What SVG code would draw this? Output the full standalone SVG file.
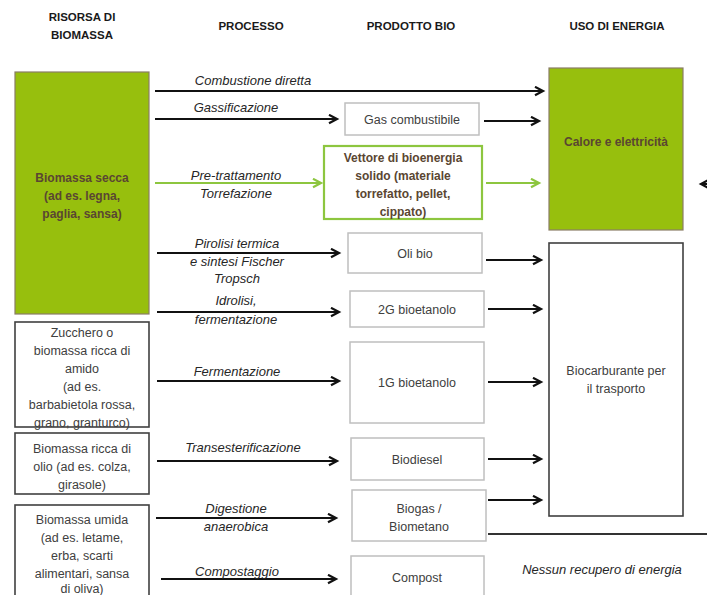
<svg xmlns="http://www.w3.org/2000/svg" width="707" height="595" viewBox="0 0 707 595">
<style>
text{font-family:"Liberation Sans","Open Sans",sans-serif;font-size:12.5px;text-anchor:middle;fill:#404040}
.h{font-weight:bold;font-size:11.5px;fill:#1a1a1a}
.p{font-style:italic;font-size:13px;fill:#262626}
.b{fill:#5a4632;font-weight:bold;font-size:12px}
.gbox{fill:#97BF0D;stroke:#8a7d66;stroke-width:1.2}
.wbox{fill:#fff;stroke:#404040;stroke-width:1.6}
.pbox{fill:#fff;stroke:#bfbfbf;stroke-width:1.5}
.vbox{fill:#fff;stroke:#8DC63F;stroke-width:2.2}
.a{stroke:#111;stroke-width:2;fill:none;marker-end:url(#ah)}
.ag{stroke:#8DC63F;stroke-width:2;fill:none;marker-end:url(#ahg)}
.ln{stroke:#333;stroke-width:2;fill:none}
</style>
<defs>
<marker id="ah" markerWidth="12" markerHeight="12" refX="9" refY="5" orient="auto" markerUnits="userSpaceOnUse">
<path d="M1,0.8 L9,5 L1,9.2" fill="none" stroke="#111" stroke-width="2.2"/>
</marker>
<marker id="ahg" markerWidth="12" markerHeight="12" refX="9" refY="5" orient="auto" markerUnits="userSpaceOnUse">
<path d="M1,0.8 L9,5 L1,9.2" fill="none" stroke="#8DC63F" stroke-width="2.2"/>
</marker>
</defs>
<rect width="707" height="595" fill="#fff"/>
<g id="headers">
<text class="h" x="82" y="21">RISORSA DI</text>
<text class="h" x="82" y="39">BIOMASSA</text>
<text class="h" x="251" y="30">PROCESSO</text>
<text class="h" x="411" y="30">PRODOTTO BIO</text>
<text class="h" x="617" y="30">USO DI ENERGIA</text>
</g>
<g id="n-secca">
<rect class="gbox" x="15" y="72" width="134" height="242"/>
<text class="b" x="82" y="182">Biomassa secca</text>
<text class="b" x="82" y="200">(ad es. legna,</text>
<text class="b" x="82" y="218">paglia, sansa)</text>
</g>
<g id="n-zucchero">
<rect class="wbox" x="15" y="322" width="134" height="105"/>
<text x="82" y="337">Zucchero o</text>
<text x="82" y="355">biomassa ricca di</text>
<text x="82" y="373">amido</text>
<text x="82" y="391">(ad es.</text>
<text x="82" y="409">barbabietola rossa,</text>
<text x="82" y="427">grano, granturco)</text>
</g>
<g id="n-olio">
<rect class="wbox" x="15" y="433" width="134" height="61"/>
<text x="82" y="453">Biomassa ricca di</text>
<text x="82" y="471">olio (ad es. colza,</text>
<text x="82" y="489">girasole)</text>
</g>
<g id="n-umida">
<rect class="wbox" x="15" y="505" width="134" height="100"/>
<text x="82" y="524">Biomassa umida</text>
<text x="82" y="542">(ad es. letame,</text>
<text x="82" y="560">erba, scarti</text>
<text x="82" y="578">alimentari, sansa</text>
<text x="82" y="593">di oliva)</text>
</g>
<g id="n-gas">
<rect class="pbox" x="345" y="103" width="134" height="32"/>
<text x="412" y="124">Gas combustibile</text>
</g>
<g id="n-vettore">
<rect class="vbox" x="324" y="146" width="158" height="73"/>
<text class="b" x="403" y="162">Vettore di bioenergia</text>
<text class="b" x="403" y="180">solido (materiale</text>
<text class="b" x="403" y="198">torrefatto, pellet,</text>
<text class="b" x="403" y="216">cippato)</text>
</g>
<g id="n-oli">
<rect class="pbox" x="348" y="233" width="134" height="40"/>
<text x="415" y="258">Oli bio</text>
</g>
<g id="n-2g">
<rect class="pbox" x="350" y="291" width="134" height="36"/>
<text x="417" y="314">2G bioetanolo</text>
</g>
<g id="n-1g">
<rect class="pbox" x="350" y="342" width="134" height="81"/>
<text x="417" y="387">1G bioetanolo</text>
</g>
<g id="n-biodiesel">
<rect class="pbox" x="351" y="438" width="133" height="42"/>
<text x="417" y="464">Biodiesel</text>
</g>
<g id="n-biogas">
<rect class="pbox" x="352" y="490" width="134" height="51"/>
<text x="419" y="513">Biogas /</text>
<text x="419" y="531">Biometano</text>
</g>
<g id="n-compost">
<rect class="pbox" x="351" y="556" width="133" height="50"/>
<text x="417" y="582">Compost</text>
</g>
<g id="n-calore">
<rect class="gbox" x="549" y="68" width="134" height="162"/>
<text class="b" x="616" y="146">Calore  e elettricità</text>
</g>
<g id="n-biocarb">
<rect class="wbox" x="549" y="243" width="134" height="273"/>
<text x="616" y="375">Biocarburante per</text>
<text x="616" y="393">il trasporto</text>
</g>
<g id="n-nessun">
<text class="p" x="602" y="574">Nessun recupero di energia</text>
</g>
<g id="connectors">
<line class="a" x1="155" y1="91" x2="543" y2="91"/>
<line class="a" x1="155" y1="119" x2="337" y2="119"/>
<line class="ag" x1="155" y1="183" x2="321" y2="183"/>
<line class="a" x1="157" y1="253" x2="339" y2="253"/>
<line class="a" x1="157" y1="312" x2="339" y2="312"/>
<line class="a" x1="157" y1="381" x2="339" y2="381"/>
<line class="a" x1="157" y1="461" x2="337" y2="461"/>
<line class="a" x1="156" y1="518" x2="336" y2="518"/>
<line class="a" x1="161" y1="579" x2="336" y2="579"/>
<line class="a" x1="484" y1="121" x2="539" y2="121"/>
<line class="ag" x1="486" y1="183" x2="539" y2="183"/>
<line class="a" x1="486" y1="260" x2="541" y2="260"/>
<line class="a" x1="488" y1="309" x2="541" y2="309"/>
<line class="a" x1="488" y1="382" x2="541" y2="382"/>
<line class="a" x1="488" y1="459" x2="541" y2="459"/>
<line class="a" x1="488" y1="500" x2="541" y2="500"/>
<line class="ln" x1="488" y1="534" x2="707" y2="534"/>
<line class="a" x1="714" y1="184" x2="701" y2="184"/>
</g>
<g id="process-labels">
<text class="p" x="253" y="85">Combustione diretta</text>
<text class="p" x="236" y="112">Gassificazione</text>
<text class="p" x="236" y="180">Pre-trattamento</text>
<text class="p" x="236" y="198">Torrefazione</text>
<text class="p" x="237" y="248">Pirolisi termica</text>
<text class="p" x="237" y="266">e sintesi Fischer</text>
<text class="p" x="237" y="283">Tropsch</text>
<text class="p" x="236" y="305">Idrolisi,</text>
<text class="p" x="236" y="324">fermentazione</text>
<text class="p" x="237" y="376">Fermentazione</text>
<text class="p" x="243" y="452">Transesterificazione</text>
<text class="p" x="236" y="513">Digestione</text>
<text class="p" x="236" y="531">anaerobica</text>
<text class="p" x="237" y="576">Compostaggio</text>
</g>
</svg>
